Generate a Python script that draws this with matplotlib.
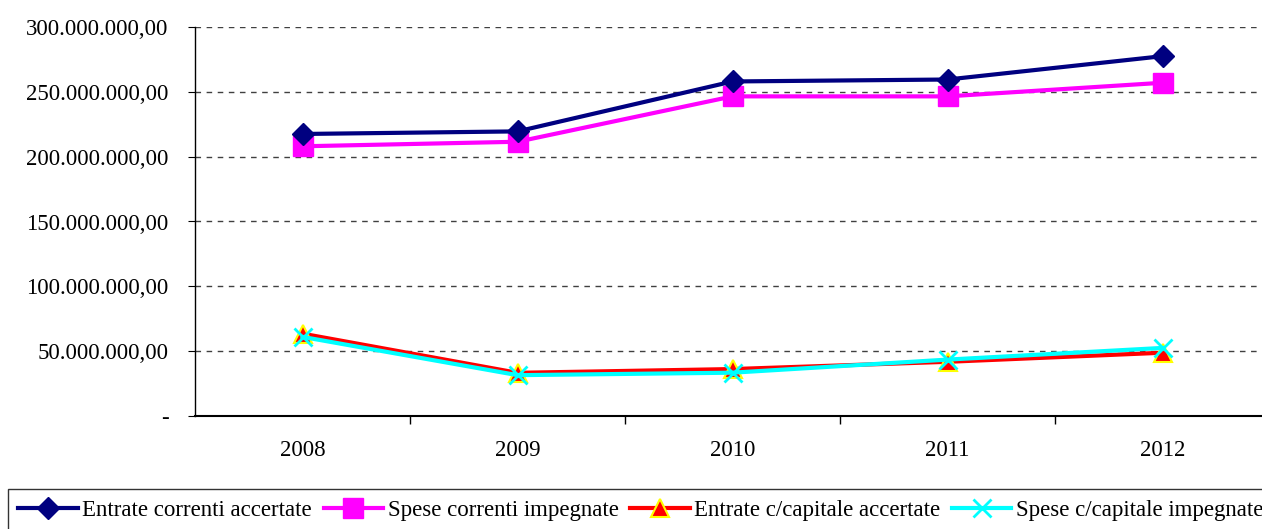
import matplotlib.pyplot as plt
from matplotlib.ticker import FuncFormatter

plt.rcParams['font.family'] = ['Liberation Serif', 'DejaVu Serif']

years = ['2008', '2009', '2010', '2011', '2012']
entrate_correnti = [217.5e6, 219.5e6, 258.0e6, 259.5e6, 277.5e6]
spese_correnti = [208.0e6, 211.5e6, 246.5e6, 246.5e6, 257.0e6]
entrate_capitale = [63.5e6, 33.3e6, 36.2e6, 41.8e6, 48.8e6]
spese_capitale = [61.0e6, 31.5e6, 33.4e6, 43.5e6, 52.5e6]


def fmt_it(v, pos):
    if v == 0:
        return '-'
    return f"{v:,.2f}".replace(',', 'X').replace('.', ',').replace('X', '.')


fig = plt.figure(figsize=(12.62, 5.29), dpi=100)
# right edge of the plot area runs past the figure, like the source
ax = fig.add_axes([195 / 1262, 113 / 529, 1075 / 1262, 389 / 529])

x = range(len(years))
ax.plot(x, entrate_correnti, color='#000080', lw=3, marker='D', ms=11,
        label='Entrate correnti accertate', zorder=4)
ax.plot(x, spese_correnti, color='#FF00FF', lw=3, marker='s', ms=15,
        label='Spese correnti impegnate', zorder=3)
ax.plot(x, entrate_capitale, color='#FF0000', lw=3, marker='^', ms=13,
        mec='#FFFF00', mew=1.5, label='Entrate c/capitale accertate', zorder=4)
ax.plot(x, spese_capitale, color='#00FFFF', lw=3, marker='x', ms=13,
        mew=2, label='Spese c/capitale impegnate', zorder=5)

ax.set_xlim(-0.5, 4.5)
ax.set_ylim(0, 300e6)
ax.set_yticks(range(0, 300_000_001, 50_000_000))
ax.yaxis.set_major_formatter(FuncFormatter(fmt_it))
ax.set_xticks(list(x))
ax.set_xticklabels(years)
ax.set_xticks([0.5, 1.5, 2.5, 3.5], minor=True)
ax.tick_params(axis='x', which='major', length=0, pad=17, labelsize=16.5)
ax.tick_params(axis='x', which='minor', length=6, width=1)
ax.tick_params(axis='y', length=5, labelsize=16.5, pad=14)

ax.grid(axis='y', linestyle=(0, (4, 4)), color='#404040', lw=1)
ax.set_axisbelow(True)
for s in ['top', 'right']:
    ax.spines[s].set_visible(False)
ax.spines['left'].set_linewidth(1)
ax.spines['bottom'].set_linewidth(1.5)

leg = fig.legend(loc='lower left', bbox_to_anchor=(8 / 1262, -0.004), ncol=4,
                 fontsize=16.5, frameon=True, fancybox=False, borderpad=0.45,
                 handlelength=2.6, handletextpad=0.2, columnspacing=0.5,
                 borderaxespad=0)
leg.get_frame().set_edgecolor('black')
leg.get_frame().set_linewidth(1)

fig.savefig('out.png', dpi=100)
